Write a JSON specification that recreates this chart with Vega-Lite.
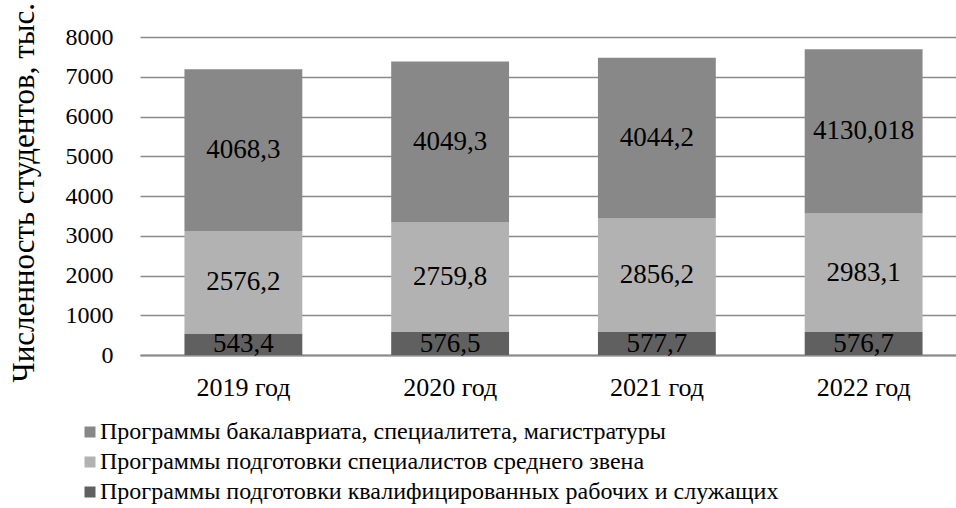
{
  "$schema": "https://vega.github.io/schema/vega-lite/v6.json",
  "autosize": {"type": "none"},
  "width": 827,
  "height": 318,
  "padding": {"left": 140, "top": 37, "right": 0, "bottom": 153},
  "background": "white",
  "config": {"font": "'Liberation Serif', 'DejaVu Serif', serif", "view": {"stroke": null}},
  "data": {
    "values": [
      {"year": "2019 год", "cat": "Программы подготовки квалифицированных рабочих и служащих", "ord": 1, "value": 543.4, "label": "543,4"},
      {"year": "2019 год", "cat": "Программы подготовки специалистов среднего звена", "ord": 2, "value": 2576.2, "label": "2576,2"},
      {"year": "2019 год", "cat": "Программы бакалавриата, специалитета, магистратуры", "ord": 3, "value": 4068.3, "label": "4068,3"},
      {"year": "2020 год", "cat": "Программы подготовки квалифицированных рабочих и служащих", "ord": 1, "value": 576.5, "label": "576,5"},
      {"year": "2020 год", "cat": "Программы подготовки специалистов среднего звена", "ord": 2, "value": 2759.8, "label": "2759,8"},
      {"year": "2020 год", "cat": "Программы бакалавриата, специалитета, магистратуры", "ord": 3, "value": 4049.3, "label": "4049,3"},
      {"year": "2021 год", "cat": "Программы подготовки квалифицированных рабочих и служащих", "ord": 1, "value": 577.7, "label": "577,7"},
      {"year": "2021 год", "cat": "Программы подготовки специалистов среднего звена", "ord": 2, "value": 2856.2, "label": "2856,2"},
      {"year": "2021 год", "cat": "Программы бакалавриата, специалитета, магистратуры", "ord": 3, "value": 4044.2, "label": "4044,2"},
      {"year": "2022 год", "cat": "Программы подготовки квалифицированных рабочих и служащих", "ord": 1, "value": 576.7, "label": "576,7"},
      {"year": "2022 год", "cat": "Программы подготовки специалистов среднего звена", "ord": 2, "value": 2983.1, "label": "2983,1"},
      {"year": "2022 год", "cat": "Программы бакалавриата, специалитета, магистратуры", "ord": 3, "value": 4130.018, "label": "4130,018"}
    ]
  },
  "encoding": {
    "x": {
      "field": "year",
      "type": "nominal",
      "scale": {"paddingInner": 0.43, "paddingOuter": 0.215},
      "axis": {
        "title": null,
        "labelAngle": 0,
        "labelFontSize": 26,
        "labelColor": "#000000",
        "labelPadding": 19,
        "ticks": false,
        "domain": true,
        "domainColor": "#8a8a8a",
        "domainWidth": 2,
        "grid": false
      }
    },
    "y": {
      "field": "value",
      "type": "quantitative",
      "stack": "zero",
      "scale": {"domain": [0, 8000], "nice": false},
      "axis": {
        "title": "Численность студентов, тыс. чел.",
        "titleFontSize": 31,
        "titleFontWeight": "normal",
        "titleColor": "#000000",
        "titleAngle": -90,
        "titleAlign": "left",
        "titleBaseline": "alphabetic",
        "titleX": -107,
        "titleY": 345,
        "values": [0, 1000, 2000, 3000, 4000, 5000, 6000, 7000, 8000],
        "format": "d",
        "labelFontSize": 24,
        "labelColor": "#000000",
        "labelPadding": 27,
        "ticks": false,
        "domain": false,
        "grid": true,
        "gridColor": "#8a8a8a",
        "gridWidth": 1.5
      }
    },
    "order": {"field": "ord", "type": "quantitative"}
  },
  "layer": [
    {
      "mark": {"type": "bar"},
      "encoding": {
        "color": {
          "field": "cat",
          "type": "nominal",
          "scale": {
            "domain": [
              "Программы бакалавриата, специалитета, магистратуры",
              "Программы подготовки специалистов среднего звена",
              "Программы подготовки квалифицированных рабочих и служащих"
            ],
            "range": ["#888888", "#b2b2b2", "#606060"]
          },
          "legend": {
            "orient": "none",
            "legendX": -62,
            "legendY": 383,
            "direction": "vertical",
            "title": null,
            "padding": 0,
            "symbolType": "square",
            "symbolSize": 121,
            "symbolStrokeWidth": 0,
            "labelFontSize": 24,
            "labelColor": "#000000",
            "labelLimit": 0,
            "labelOffset": -2,
            "rowPadding": 6
          }
        }
      }
    },
    {
      "mark": {"type": "text", "fontSize": 27, "color": "#000000", "baseline": "middle", "align": "center"},
      "encoding": {
        "y": {"field": "value", "type": "quantitative", "stack": "zero", "bandPosition": 0.5},
        "detail": {"field": "cat"},
        "text": {"field": "label"}
      }
    }
  ]
}
